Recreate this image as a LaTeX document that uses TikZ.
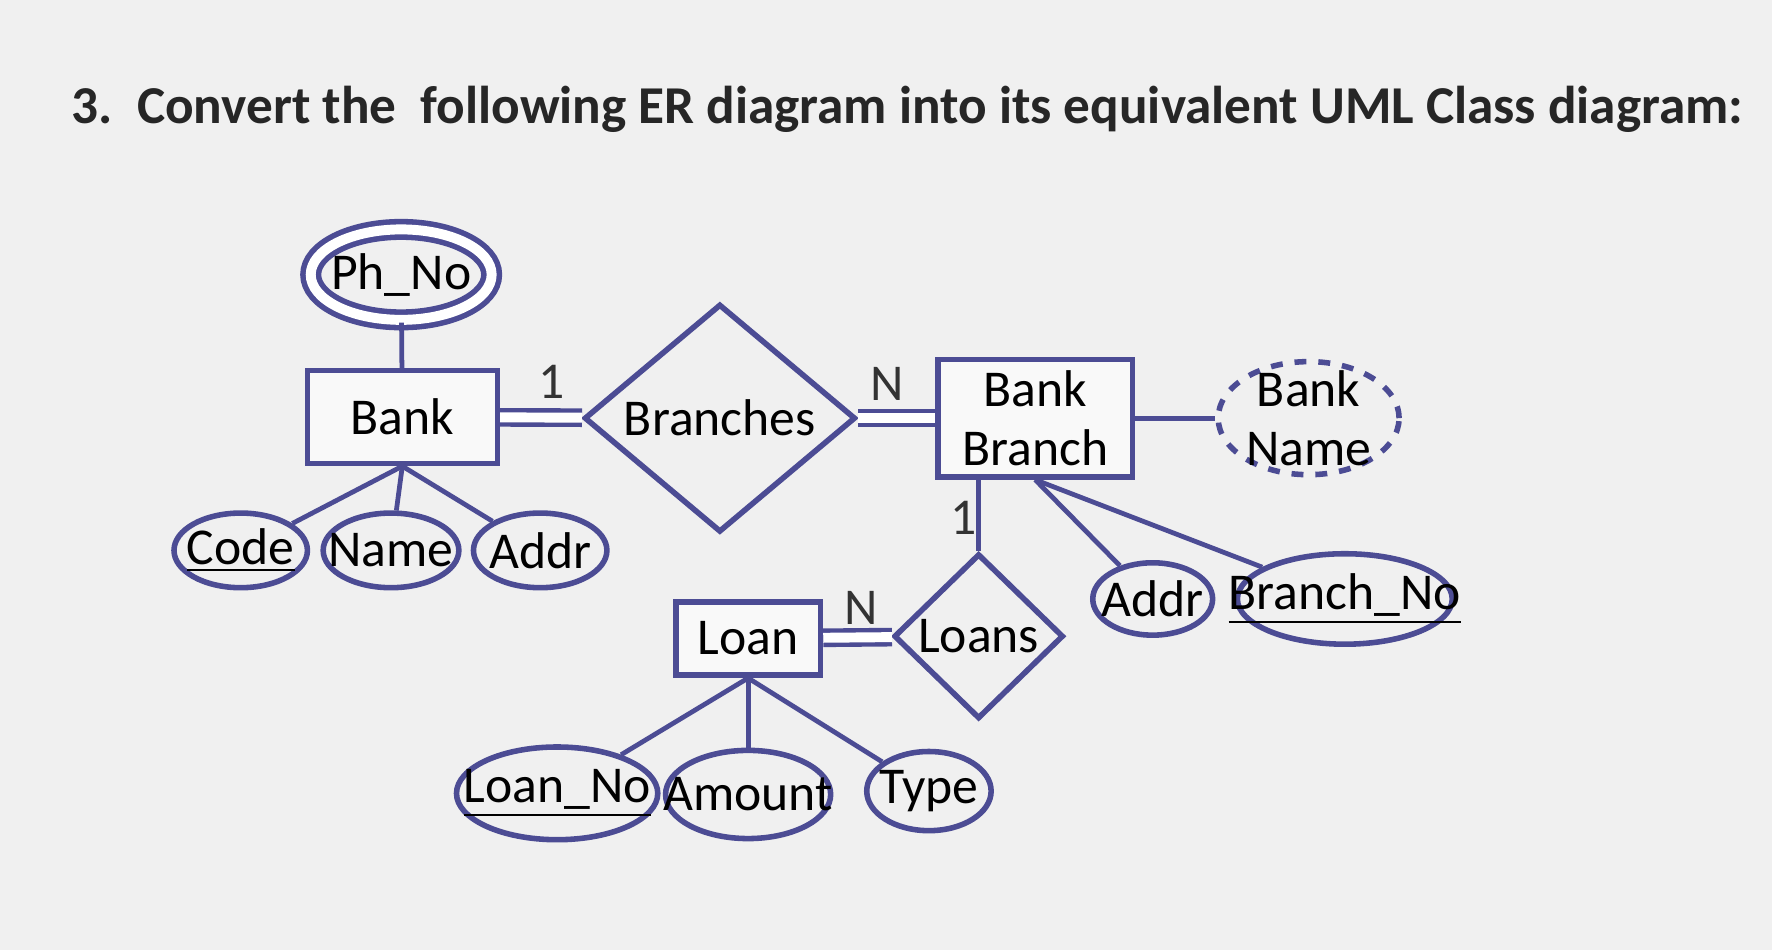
\documentclass[tikz,border=0pt]{standalone}
\usepackage{fontspec}
\setmainfont{Carlito}
\usetikzlibrary{shapes.geometric}
\begin{document}
\begin{tikzpicture}[x=0.01cm,y=-0.01cm,
  lc/.style={draw=blue!40!black!70,line width=1.4pt},
  ent/.style={lc,rectangle,fill=white!70!gray!15,font=\fontsize{13}{15}\selectfont,align=center,inner sep=0pt},
  rel/.style={lc,diamond,font=\fontsize{13}{15}\selectfont,inner sep=0pt},
  att/.style={lc,ellipse,inner sep=0pt},
  atxt/.style={font=\fontsize{13}{15}\selectfont,align=center,inner sep=0pt},
  dbl/.style={draw=blue!40!black!70,double,double distance=2.5pt,line width=1.1pt},
  sl/.style={draw=blue!40!black!70,line width=1.2pt},
  lab/.style={font=\fontsize{13}{15}\selectfont,text=black!80}]
\fill[gray!12] (0,0) rectangle (1568,841);
\useasboundingbox (0,0) rectangle (1568,841);
\node[font=\fontsize{13.4}{16}\selectfont\bfseries,text=black!85] (title) at (803,97) {3.\ \ Convert the\ \ following ER diagram into its equivalent UML Class diagram:};
% entities
\node[ent,minimum width=1.68cm,minimum height=0.82cm] (bank) at (356,369) {Bank};
\node[ent,minimum width=1.72cm,minimum height=1.04cm] (bb) at (916,370) {Bank\\Branch};
\node[ent,minimum width=1.28cm,minimum height=0.65cm] (loan) at (662,565) {Loan};
% relationships
\node[rel,minimum width=2.4cm,minimum height=1.9cm] (br) at (637,370) {Branches};
\node[rel,minimum width=1.5cm,minimum height=1.46cm] (loans) at (866,563) {Loans};
% attributes
\node[att,double,double distance=2.5pt,minimum width=1.6cm,minimum height=0.8cm] (ph) at (355,243) {};
\node[att,dashed,minimum width=1.6cm,minimum height=1.0cm] (bn) at (1158,370) {};
\node[att,minimum width=1.18cm,minimum height=0.66cm] (code) at (213,487) {};
\node[att,minimum width=1.2cm,minimum height=0.66cm] (name) at (346,487) {};
\node[att,minimum width=1.18cm,minimum height=0.66cm] (addr) at (478,487) {};
\node[att,minimum width=1.06cm,minimum height=0.64cm] (addr2) at (1020,530) {};
\node[att,minimum width=1.9cm,minimum height=0.8cm] (bno) at (1190,530) {};
\node[att,minimum width=1.78cm,minimum height=0.82cm] (lno) at (493,702) {};
\node[att,minimum width=1.46cm,minimum height=0.78cm] (amt) at (662,703) {};
\node[att,minimum width=1.1cm,minimum height=0.7cm] (type) at (822,700) {};
\node[atxt] (tph) at (ph) {Ph\_No};
\node[atxt] (tbn) at (bn) {Bank\\Name};
\node[atxt] (tcode) at (code) {\underline{Code}};
\node[atxt] (tname) at (name) {Name};
\node[atxt] (taddr) at (addr) {Addr};
\node[atxt] (taddr2) at (addr2) {Addr};
\node[atxt] (tbno) at (bno) {\underline{Branch\_No}};
\node[atxt] (tlno) at (lno) {\underline{Loan\_No}};
\node[atxt] (tamt) at (amt) {Amount};
\node[atxt] (ttype) at (type) {Type};
% connectors
\draw[sl] (ph) -- (bank);
\draw[dbl] (bank) -- (br);
\draw[dbl] (br) -- (bb);
\draw[sl] (bb) -- (bn);
\draw[sl] (loans.north) -- (loans.north |- bb.south);
\draw[dbl] (loan) -- (loans);
\draw[sl] (bank.south) -- (code);
\draw[sl] (bank.south) -- (name);
\draw[sl] (bank.south) -- (addr);
\draw[sl] (bb.south) -- (addr2);
\draw[sl] (bb.south) -- (bno);
\draw[sl] (loan.south) -- (lno);
\draw[sl] (loan.south) -- (amt);
\draw[sl] (loan.south) -- (type);
% cardinalities
\node[lab] (c1) at (488,338) {1};
\node[lab] (c2) at (785,340) {N};
\node[lab] (c3) at (853,458) {1};
\node[lab] (c4) at (762,538) {N};
\end{tikzpicture}
\end{document}
